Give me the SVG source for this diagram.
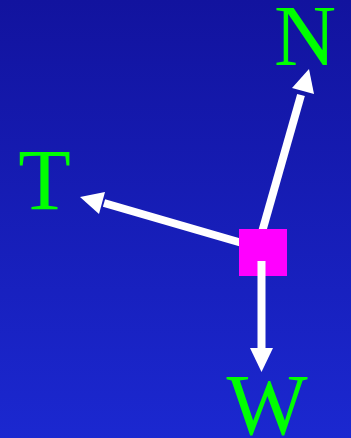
<svg xmlns="http://www.w3.org/2000/svg" width="351" height="438" viewBox="0 0 351 438">
<defs>
<linearGradient id="bg" x1="0" y1="0" x2="0" y2="1">
<stop offset="0" stop-color="#12139e"/>
<stop offset="1" stop-color="#1b28d0"/>
</linearGradient>
<style>
.lbl{font-family:"Liberation Serif","Times New Roman",serif;font-size:86px;fill:#00ff00;text-anchor:middle}
.shaft{stroke:#ffffff;stroke-width:8;fill:none}
.head{fill:#ffffff}
</style>
</defs>
<rect x="0" y="0" width="351" height="438" fill="url(#bg)"/>
<g id="connectors">
<line class="shaft" x1="262" y1="232" x2="301" y2="95"/>
<polygon class="head" points="309,69 292,88 314,94"/>
<line class="shaft" x1="242" y1="243" x2="104" y2="203"/>
<polygon class="head" points="80,197 105,192 99,214"/>
</g>
<g id="mass">
<rect x="239" y="229" width="48" height="47" fill="#ff00ff"/>
</g>
<g id="weight-arrow">
<line class="shaft" x1="261.5" y1="261" x2="261.5" y2="350"/>
<polygon class="head" points="250,348 273,348 261.5,372"/>
</g>
<g id="N"><text class="lbl" x="305" y="65">N</text></g>
<g id="T"><text class="lbl" x="44.5" y="209">T</text></g>
<g id="W"><text class="lbl" x="267" y="434">W</text></g>
</svg>
